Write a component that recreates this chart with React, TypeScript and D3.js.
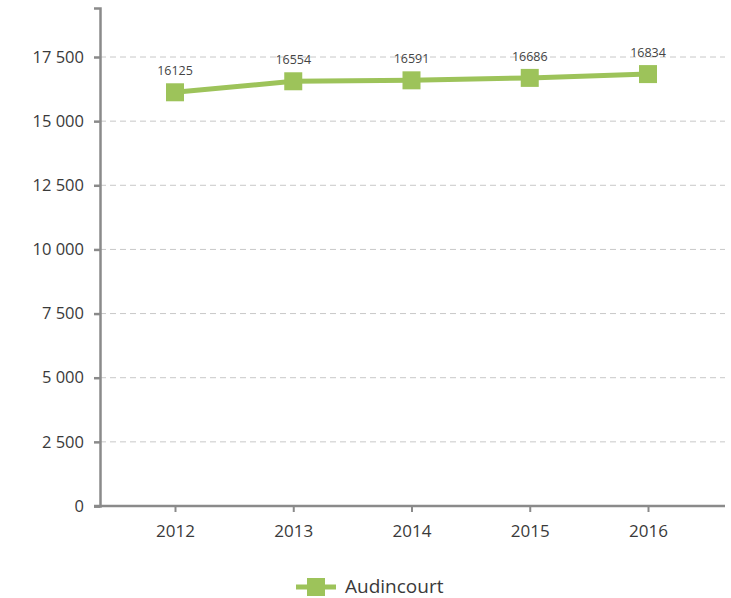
import React, { useEffect, useRef } from 'react';
import * as d3 from 'd3';

const years = ['2012', '2013', '2014', '2015', '2016'];
const population = [16125, 16554, 16591, 16686, 16834];
const yTicks = [0, 2500, 5000, 7500, 10000, 12500, 15000, 17500];
const seriesName = 'Audincourt';

const width = 731;
const height = 598;
const green = '#9dc35a';
const axisGrey = '#8a8a8a';
const font = '"Open Sans", Lato, sans-serif';

const fmt = (v: number) => d3.format(',')(v).replace(/,/g, ' ');

export default function App() {
  const svgRef = useRef<SVGSVGElement>(null);

  useEffect(() => {
    if (!svgRef.current) return;
    const svg = d3.select(svgRef.current);
    svg.selectAll('*').remove();

    const left = 100;
    const right = 725;
    const bottom = 506;

    const x = d3.scalePoint<string>().domain(years).range([175, 648]);
    const y = d3.scaleLinear().domain([0, 19410]).range([bottom, 8]);

    // grid
    svg.append('g')
      .selectAll('line')
      .data(yTicks)
      .enter().append('line')
      .attr('x1', left)
      .attr('x2', right)
      .attr('y1', d => y(d))
      .attr('y2', d => y(d))
      .attr('stroke', '#c8c8c8')
      .attr('stroke-width', 1)
      .attr('stroke-dasharray', '6,4');

    // y axis
    const yAxis = svg.append('g')
      .attr('transform', `translate(${left},0)`)
      .call(d3.axisLeft(y).tickValues(yTicks).tickSize(6).tickPadding(10).tickFormat(d => fmt(d as number)));
    yAxis.select('.domain').attr('stroke', axisGrey).attr('stroke-width', 2.5);
    yAxis.selectAll('.tick line').attr('stroke', axisGrey).attr('stroke-width', 2.5);
    yAxis.selectAll('text')
      .attr('fill', '#3a3a3a')
      .style('font-family', font)
      .style('font-size', '16.5px');

    // x axis
    const xAxis = svg.append('g')
      .attr('transform', `translate(0,${bottom})`)
      .call(d3.axisBottom(x).tickSize(6).tickPadding(13));
    xAxis.select('.domain').remove();
    xAxis.append('line')
      .attr('x1', left - 6)
      .attr('x2', right)
      .attr('stroke', axisGrey)
      .attr('stroke-width', 2.5);
    xAxis.selectAll('.tick line').attr('stroke', axisGrey).attr('stroke-width', 2);
    xAxis.selectAll('text')
      .attr('fill', '#3a3a3a')
      .style('font-family', font)
      .style('font-size', '17px');

    // line
    const pts = years.map((yr, i) => ({ yr, v: population[i] }));
    svg.append('path')
      .datum(pts)
      .attr('fill', 'none')
      .attr('stroke', green)
      .attr('stroke-width', 5)
      .attr('d', d3.line<{ yr: string; v: number }>().x(d => x(d.yr)!).y(d => y(d.v)));

    svg.append('g')
      .selectAll('rect')
      .data(pts)
      .enter().append('rect')
      .attr('x', d => x(d.yr)! - 9)
      .attr('y', d => y(d.v) - 9)
      .attr('width', 18)
      .attr('height', 18)
      .attr('fill', green);

    svg.append('g')
      .selectAll('text')
      .data(pts)
      .enter().append('text')
      .attr('x', d => x(d.yr)!)
      .attr('y', d => y(d.v) - 17)
      .attr('text-anchor', 'middle')
      .attr('fill', '#444')
      .style('font-family', font)
      .style('font-size', '12.5px')
      .text(d => d.v);

    // legend
    const lg = svg.append('g').attr('transform', 'translate(296,587)');
    lg.append('line')
      .attr('x1', 0).attr('x2', 40)
      .attr('stroke', green)
      .attr('stroke-width', 5);
    lg.append('rect')
      .attr('x', 11).attr('y', -9)
      .attr('width', 18).attr('height', 18)
      .attr('fill', green);
    lg.append('text')
      .attr('x', 49).attr('y', 6)
      .attr('fill', '#3a3a3a')
      .style('font-family', font)
      .style('font-size', '19px')
      .text(seriesName);
  }, []);

  return (
    <svg ref={svgRef} width={width} height={height}
      style={{ position: 'absolute', left: 0, top: 0, background: '#fff' }} />
  );
}
